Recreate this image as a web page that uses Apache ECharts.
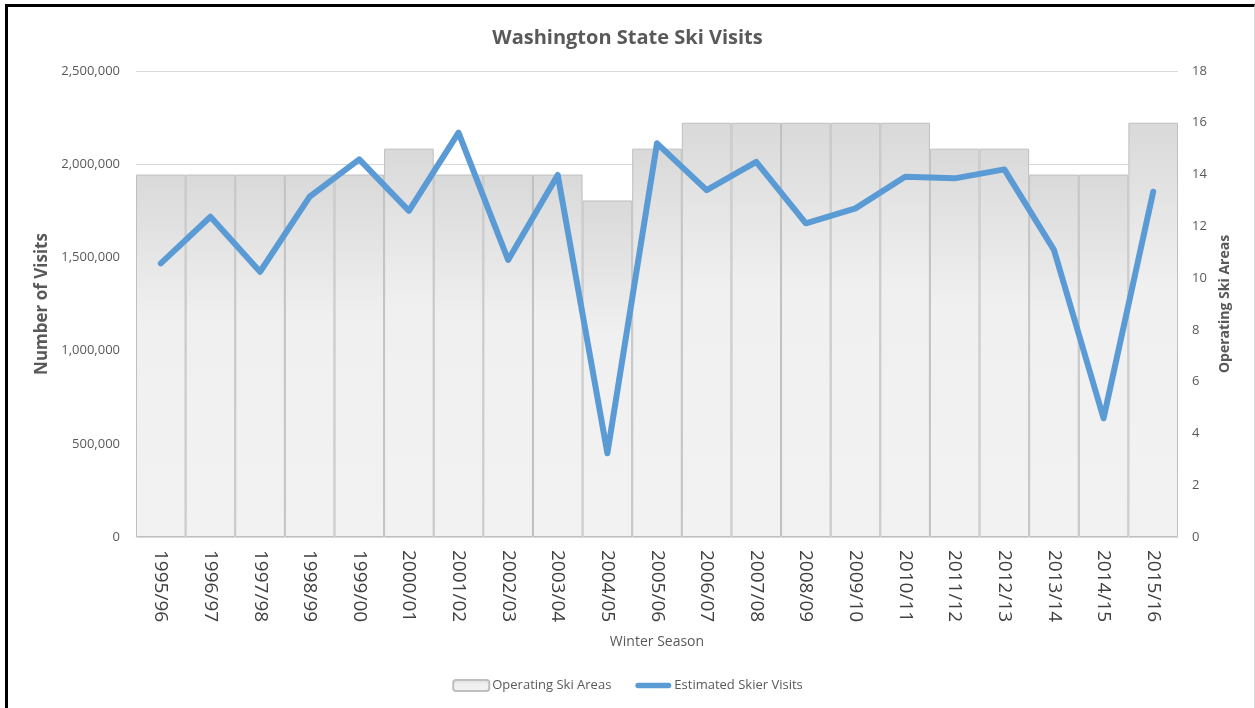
<!DOCTYPE html>
<html>
<head>
<meta charset="utf-8">
<script src="https://cdn.jsdelivr.net/npm/echarts@6/dist/echarts.min.js"></script>
<style>
html,body{margin:0;padding:0;background:#fff;}
#chart{position:absolute;left:0;top:0;width:1255px;height:708px;}
#frame{position:absolute;left:5px;top:4px;width:1246px;height:720px;border-left:3px solid #000;border-top:3px solid #000;border-right:1px solid #d9d9d9;pointer-events:none;}
</style>
</head>
<body>
<div id="chart"></div>
<div id="frame"></div>
<script>
const seasons = ["1995/96","1996/97","1997/98","1998/99","1999/00","2000/01","2001/02","2002/03","2003/04","2004/05","2005/06","2006/07","2007/08","2008/09","2009/10","2010/11","2011/12","2012/13","2013/14","2014/15","2015/16"];
const operatingSkiAreas = [14,14,14,14,14,15,14,14,14,13,15,16,16,16,16,16,15,15,14,14,16];
const skierVisits = [1468000,1718000,1423000,1826000,2026000,1750000,2169000,1486000,1942000,449000,2112000,1861000,2013000,1683000,1763000,1933000,1924000,1972000,1540000,637000,1852000];

const FONT = "'Open Sans', 'Noto Sans', sans-serif";
const TXT = '#595959';
const LINE_ICON = 'path://M0,0L0.01,0L0.01,0.01Z M0,11L0.01,11L0.01,11.01Z M2.8,2.7 L33.2,2.7 A2.8,2.8 0 0 1 33.2,8.3 L2.8,8.3 A2.8,2.8 0 0 1 2.8,2.7 Z';

const chart = echarts.init(document.getElementById('chart'), null, {renderer:'canvas'});
chart.setOption({
  backgroundColor: '#fff',
  animation: false,
  textStyle: {fontFamily: FONT},
  title: {
    text: 'Washington State Ski Visits',
    left: 'center', top: 23,
    textStyle: {fontFamily: FONT, fontSize: 20, fontWeight: 'bold', color: TXT}
  },
  grid: {left: 136, right: 77, top: 71, bottom: 171, containLabel: false},
  legend: {
    bottom: 11, left: 'center',
    itemWidth: 36, itemHeight: 11, itemGap: 24,
    textStyle: {fontFamily: FONT, fontSize: 13, color: TXT, padding: [0,0,0,-2]},
    data: [
      {name: 'Operating Ski Areas'},
      {name: 'Estimated Skier Visits', icon: LINE_ICON, itemStyle: {color: '#5b9bd5', borderWidth: 0}}
    ]
  },
  xAxis: {
    type: 'category',
    data: seasons,
    name: 'Winter Season',
    nameLocation: 'middle',
    nameGap: 98,
    nameTextStyle: {fontFamily: FONT, fontSize: 14, color: TXT},
    axisLine: {lineStyle: {color: '#d9d9d9', width: 1}},
    axisTick: {show: false},
    axisLabel: {rotate: -90, margin: 13, fontFamily: FONT, fontSize: 19, fontWeight: 500, color: '#404040', interval: 0}
  },
  yAxis: [
    {
      type: 'value', min: 0, max: 2500000, interval: 500000,
      name: 'Number of Visits', nameLocation: 'middle', nameRotate: 90, nameGap: 82,
      nameTextStyle: {fontFamily: FONT, fontSize: 17, fontWeight: 'bold', color: TXT},
      axisLine: {show: false}, axisTick: {show: false},
      axisLabel: {margin: 16, fontFamily: FONT, fontSize: 13, color: TXT,
        formatter: v => v.toLocaleString('en-US')},
      splitLine: {lineStyle: {color: '#d9d9d9', width: 1}}
    },
    {
      type: 'value', min: 0, max: 18, interval: 2, position: 'right',
      name: 'Operating Ski Areas', nameLocation: 'middle', nameRotate: 90, nameGap: 40,
      nameTextStyle: {fontFamily: FONT, fontSize: 14, fontWeight: 'bold', color: TXT},
      axisLine: {show: false}, axisTick: {show: false},
      axisLabel: {margin: 14, fontFamily: FONT, fontSize: 13, color: TXT},
      splitLine: {show: false}
    }
  ],
  series: [
    {
      name: 'Operating Ski Areas',
      type: 'bar',
      yAxisIndex: 1,
      data: operatingSkiAreas,
      barCategoryGap: 0,
      barGap: 0,
      itemStyle: {
        color: new echarts.graphic.LinearGradient(0,0,0,1,[
          {offset: 0, color: '#d9d9d9'},
          {offset: 0.4, color: '#f0f0f0'},
          {offset: 1, color: '#f2f2f2'}
        ]),
        borderColor: '#bfbfbf',
        borderWidth: 1
      }
    },
    {
      name: 'Estimated Skier Visits',
      type: 'line',
      yAxisIndex: 0,
      data: skierVisits,
      symbol: 'none',
      lineStyle: {color: '#5b9bd5', width: 6, cap: 'round', join: 'round'},
      itemStyle: {color: '#5b9bd5'}
    }
  ]
});
</script>
</body>
</html>
